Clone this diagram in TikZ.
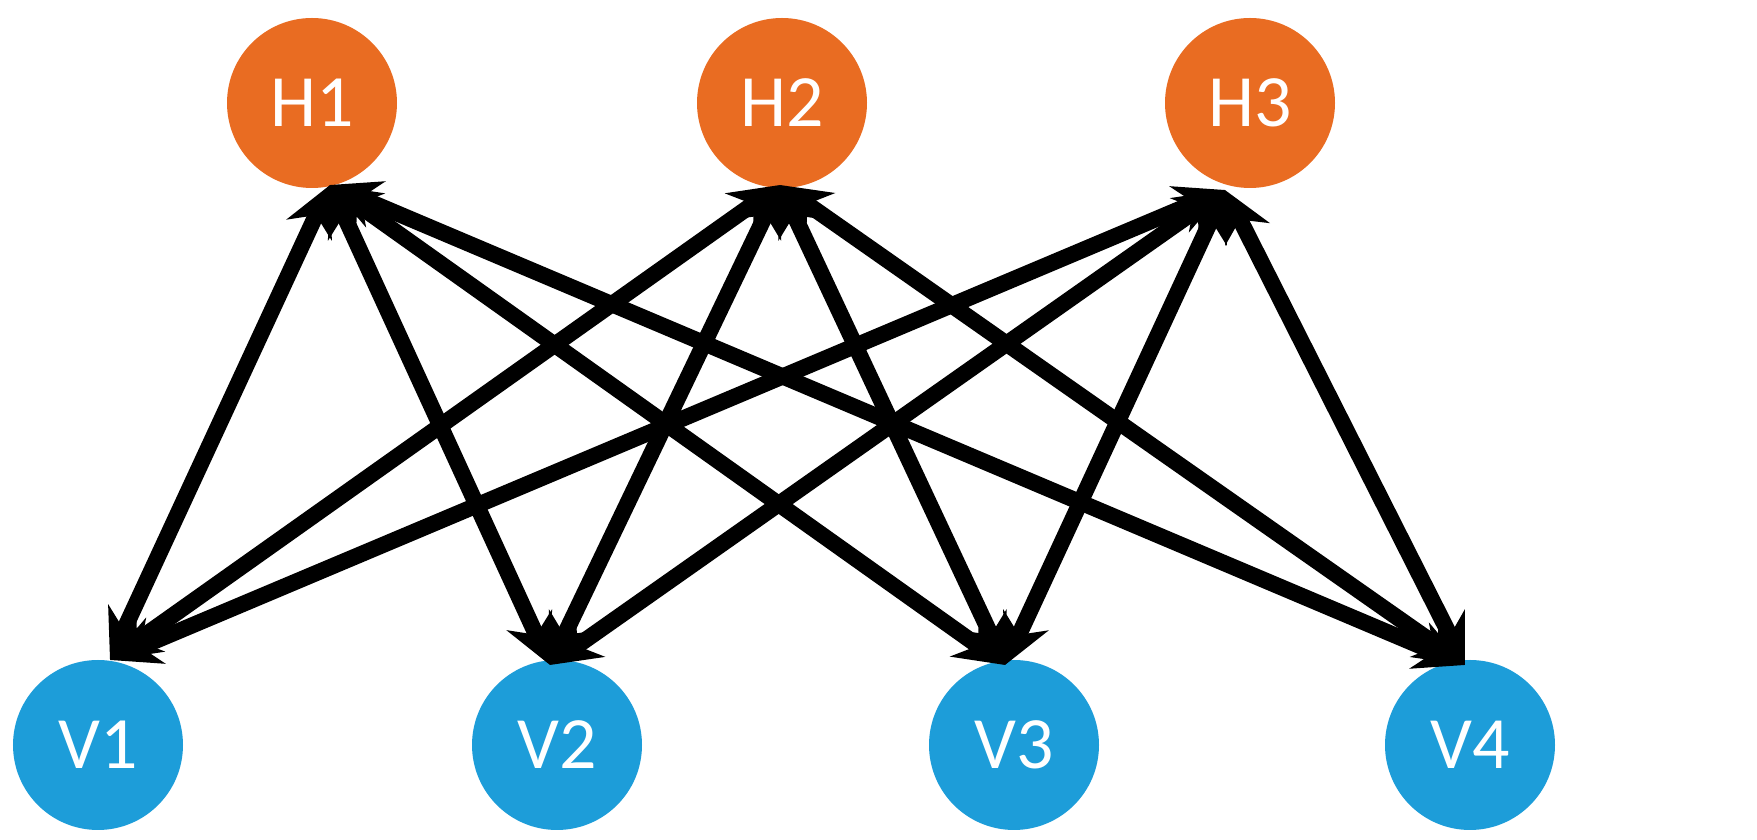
\documentclass[tikz,border=0pt]{standalone}
\usepackage{fontspec}
\setmainfont{Carlito}
\usetikzlibrary{arrows.meta}
\definecolor{hidden}{RGB}{233,108,34}
\definecolor{visible}{RGB}{29,157,217}
\tikzset{
  hnode/.style={circle, fill=hidden, minimum size=1.7cm, inner sep=0pt, text=white, font=\fontsize{21}{21}\selectfont},
  vnode/.style={circle, fill=visible, minimum size=1.7cm, inner sep=0pt, text=white, font=\fontsize{21}{21}\selectfont},
  link/.style={line width=4.6pt, {Stealth[length=14pt,width=14pt]}-{Stealth[length=14pt,width=14pt]}}
}
\begin{document}
\begin{tikzpicture}

\useasboundingbox (0,0) rectangle (17.57,8.4);

\node[hnode] (h1) at (3.12,7.37) {H1};
\node[hnode] (h2) at (7.82,7.37) {H2};
\node[hnode] (h3) at (12.50,7.37) {H3};

\node[vnode] (v1) at (0.98,0.95) {V1};
\node[vnode] (v2) at (5.57,0.95) {V2};
\node[vnode] (v3) at (10.14,0.95) {V3};
\node[vnode] (v4) at (14.70,0.95) {V4};

\coordinate (h1b) at (3.30,6.55);
\coordinate (h2b) at (7.80,6.55);
\coordinate (h3b) at (12.25,6.50);
\coordinate (v1t) at (1.10,1.80);
\coordinate (v2t) at (5.50,1.75);
\coordinate (v3t) at (10.05,1.75);
\coordinate (v4t) at (14.65,1.75);

\foreach \h in {h1b,h2b,h3b}
  \foreach \v in {v1t,v2t,v3t,v4t}
    \draw[link] (\h) -- (\v);

\end{tikzpicture}
\end{document}
